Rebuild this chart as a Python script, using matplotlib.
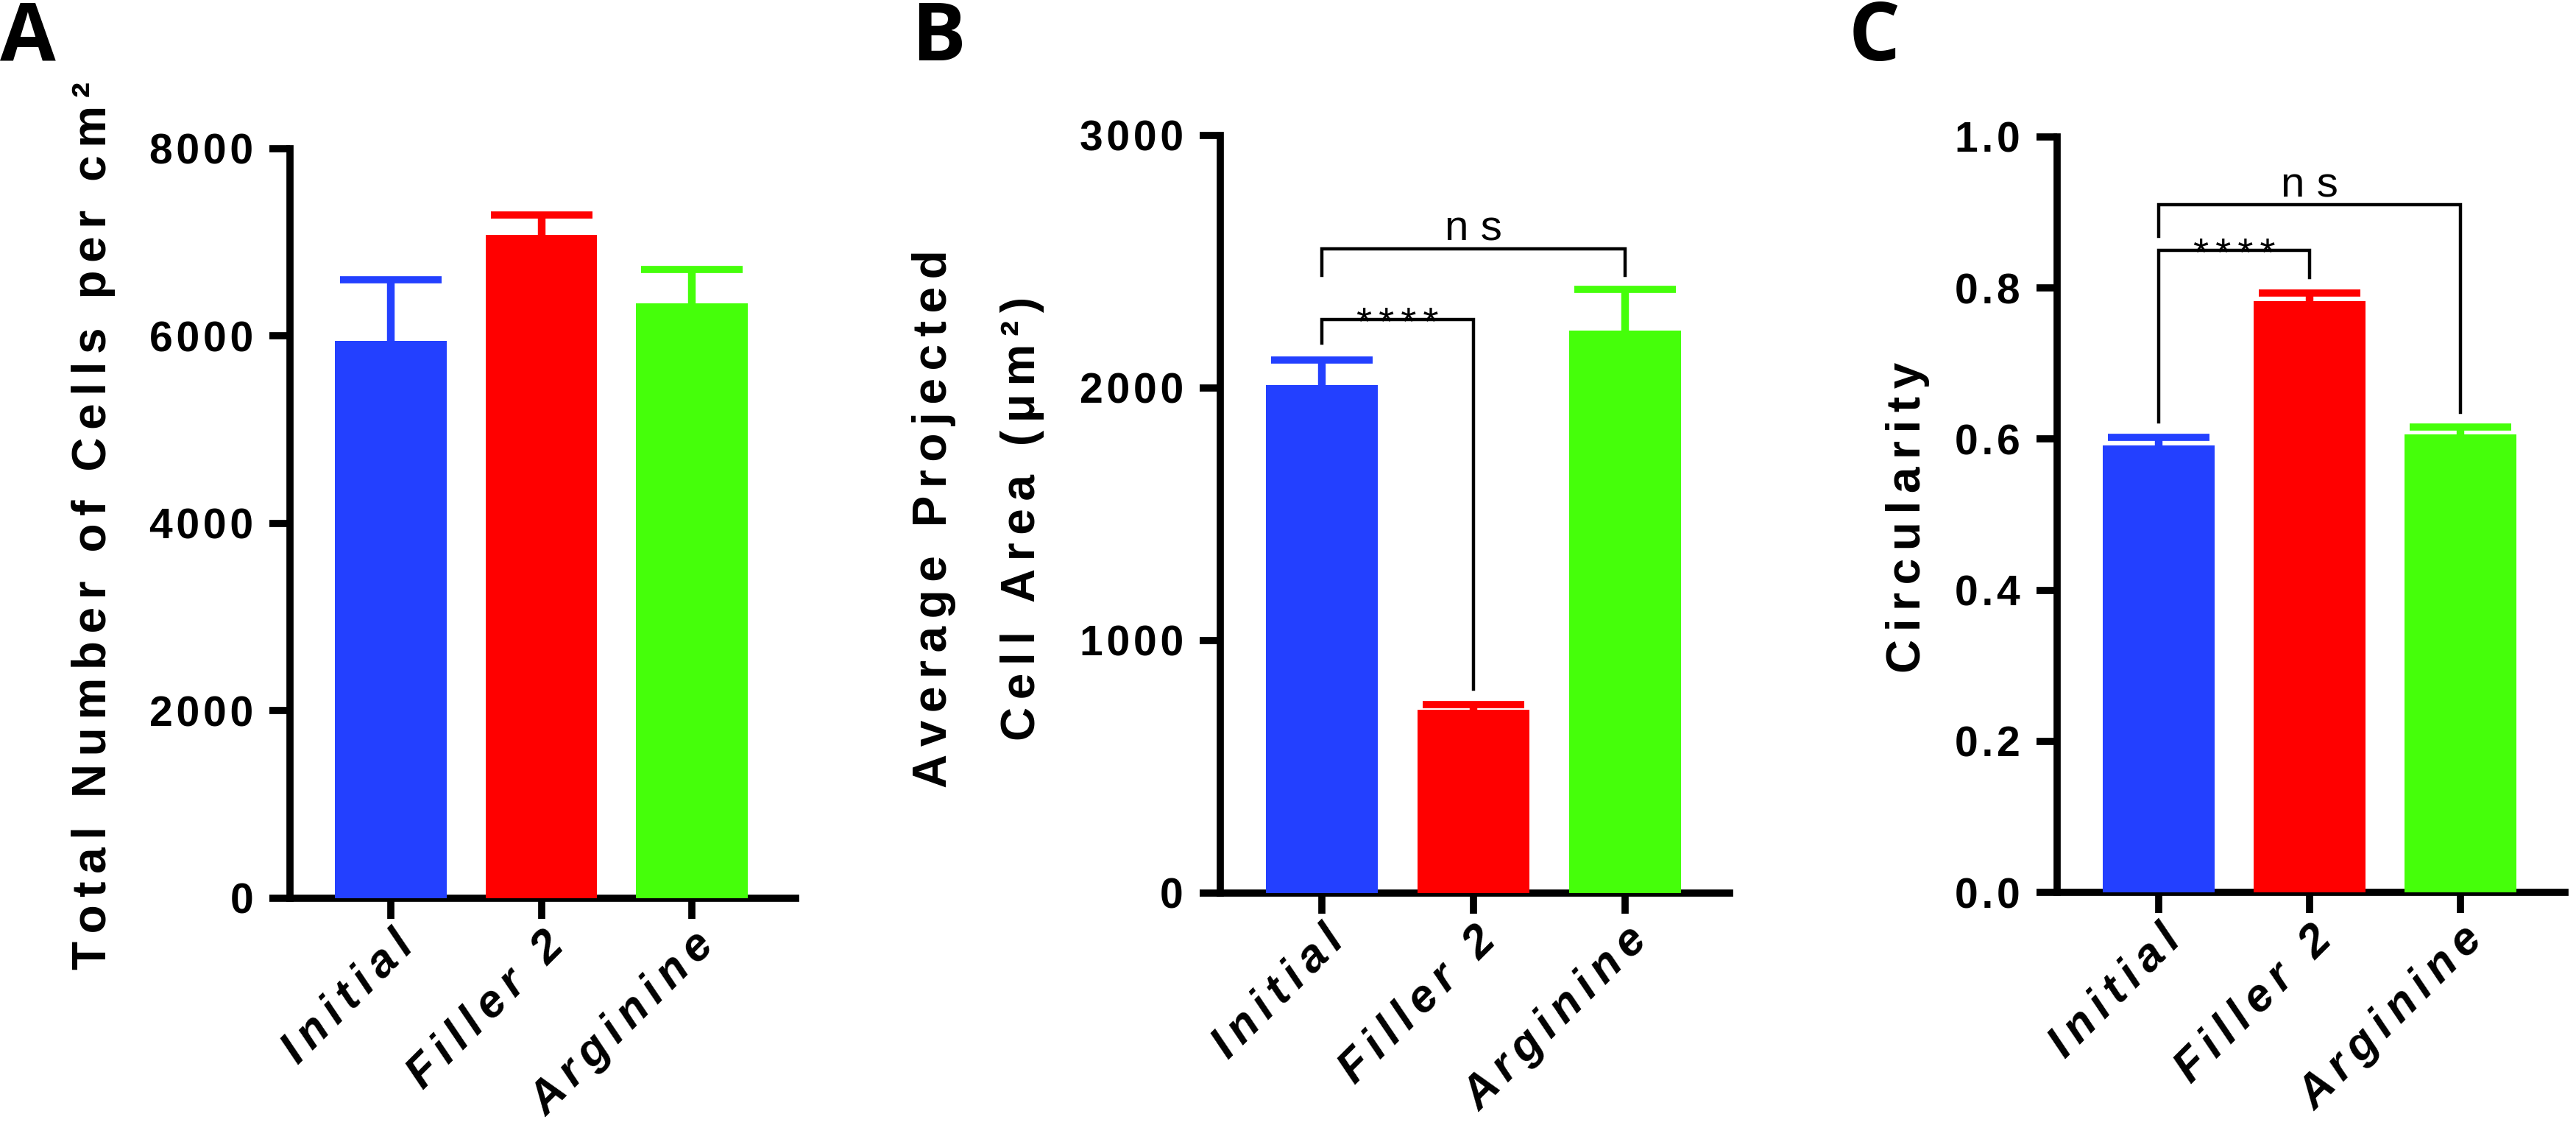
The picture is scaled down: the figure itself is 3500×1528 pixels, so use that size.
import numpy as np
import matplotlib
matplotlib.use("Agg")
import matplotlib.pyplot as plt

plt.rcParams["font.family"] = ["Liberation Sans", "DejaVu Sans"]

# ── Data ──────────────────────────────────────────────────────────────────────
groups = ["Initial", "Filler 2", "Arginine"]
colors = ["#2340FF", "#FF0000", "#45FF0A"]

cells_mean = [5950, 7080, 6350]
cells_sem = [650, 210, 360]

area_mean = [2012, 725, 2226]
area_sem = [100, 22, 165]

circ_mean = [0.592, 0.783, 0.606]
circ_sem = [0.010, 0.010, 0.010]

# brackets: (text, i, j, y bar, y bottom left leg, y bottom right leg)
area_brackets = [("****", 0, 1, 2271, 2178, 808),
                 ("ns", 0, 2, 2551, 2446, 2446)]
circ_brackets = [("****", 0, 1, 0.850, 0.623, 0.814),
                 ("ns", 0, 2, 0.910, 0.868, 0.635)]

SP = "\u2006"   # letter spacing
HS = "\u200a"
NARROW = ["Liberation Sans Narrow", "Liberation Sans", "DejaVu Sans"]


def spaced(s, sep=SP):
    return sep.join(s)


def draw_panel(ax, means, sems, ylim, yticks, ytl):
    x = np.arange(len(groups))
    ax.bar(x, means, width=0.74, color=colors, zorder=3)
    for xi, m, s, c in zip(x, means, sems, colors):
        eb = ax.errorbar(xi, m, yerr=[[0], [s]], fmt="none", ecolor=c,
                         elinewidth=7.5, capsize=50, capthick=7, zorder=2)
        eb[1][0].set_visible(False)
    ax.set_xlim(-0.67, 2.69)
    ax.set_ylim(*ylim)
    ax.set_yticks(yticks)
    ax.set_yticklabels([spaced(t, HS) for t in ytl], fontsize=41, fontweight="bold")
    ax.set_xticks(x)
    ax.set_xticklabels([spaced(g) for g in groups], rotation=45, ha="right",
                       va="top", rotation_mode="anchor", fontsize=45,
                       fontweight="bold", fontstyle="italic")
    for s in ["top", "right"]:
        ax.spines[s].set_visible(False)
    for s in ["left", "bottom"]:
        ax.spines[s].set_linewidth(7)
    ax.tick_params(axis="y", length=20, width=7, pad=16)
    ax.tick_params(axis="x", length=20, width=7, pad=5)


def draw_brackets(ax, brackets):
    for txt, i, j, y, yl, yr in brackets:
        ax.plot([i, i, j, j], [yl, y, y, yr], color="black", lw=3.2,
                solid_joinstyle="miter", zorder=4)
        xm = (i + j) / 2
        if txt == "ns":
            ax.annotate("n " + "s", (xm, y), xytext=(0, 8), textcoords="offset points",
                        ha="center", va="baseline", fontsize=42, family=NARROW)
        else:
            ax.annotate(spaced(txt), (xm, y), xytext=(0, -15), textcoords="offset points",
                        ha="center", va="baseline", fontsize=39, family=NARROW)


fig = plt.figure(figsize=(35, 15.28), dpi=100)

axA = fig.add_axes([0.1126, 0.2016, 0.1963, 0.6665])
draw_panel(axA, cells_mean, cells_sem, (0, 8000), [0, 2000, 4000, 6000, 8000],
           ["0", "2000", "4000", "6000", "8000"])

axB = fig.add_axes([0.4737, 0.2062, 0.1977, 0.6734])
draw_panel(axB, area_mean, area_sem, (0, 3000), [0, 1000, 2000, 3000],
           ["0", "1000", "2000", "3000"])
draw_brackets(axB, area_brackets)

axC = fig.add_axes([0.7986, 0.2068, 0.1971, 0.6715])
draw_panel(axC, circ_mean, circ_sem, (0, 1.0), [0, 0.2, 0.4, 0.6, 0.8, 1.0],
           ["0.0", "0.2", "0.4", "0.6", "0.8", "1.0"])
draw_brackets(axC, circ_brackets)

# y labels
lab_kw = dict(rotation=90, ha="center", va="center", fontsize=46, fontweight="bold")
fig.text(0.0363, 0.533, spaced("Total Number of Cells per cm²"), **lab_kw)
fig.text(0.3626, 0.539, spaced("Average Projected"), **lab_kw)
fig.text(0.3969, 0.539, spaced("Cell Area (μm²)"), **lab_kw)
fig.text(0.7406, 0.540, spaced("Circularity"), **lab_kw)

# panel letters
let_kw = dict(fontsize=79, fontweight="bold", ha="left", va="baseline",
              family=["Open Sans", "DejaVu Sans"])
fig.text(0.0, 1 - 82 / 1528, "A", **let_kw)
fig.text(1238 / 3500, 1 - 82 / 1528, "B", **let_kw)
fig.text(2512 / 3500, 1 - 82 / 1528, "C", **let_kw)

fig.savefig("out.png", dpi=100)
